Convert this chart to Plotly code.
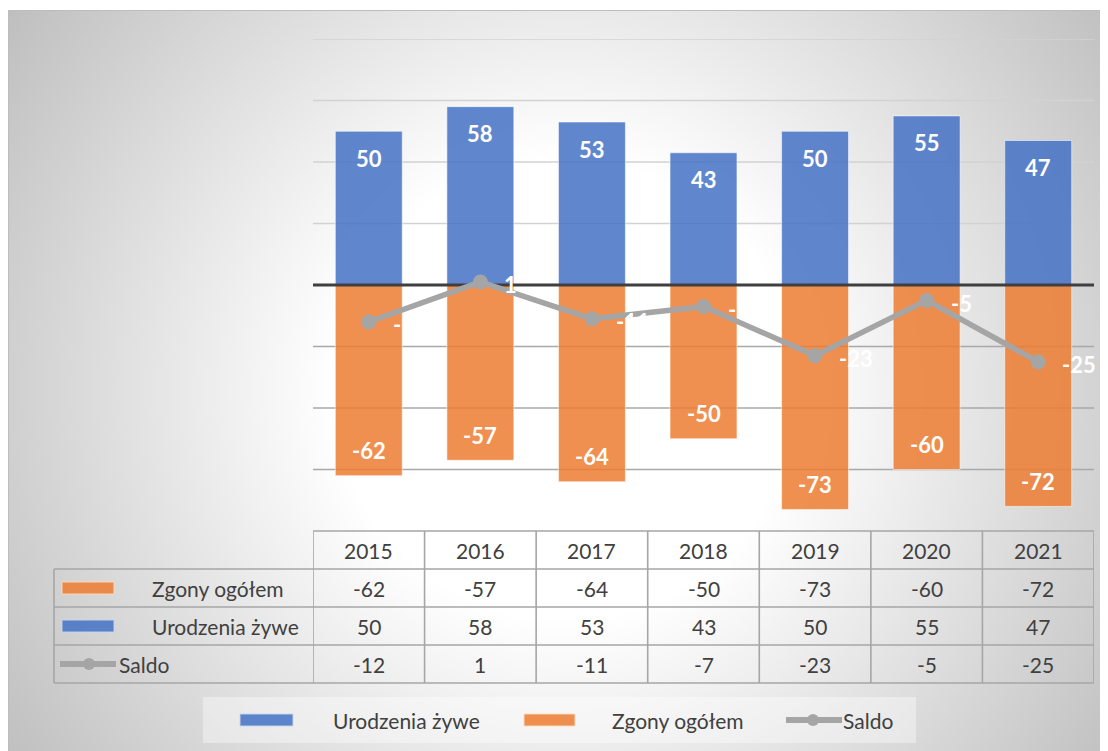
import base64
import struct
import zlib

import numpy as np
import plotly.graph_objects as go

# ---------------- data ----------------
years = [2015, 2016, 2017, 2018, 2019, 2020, 2021]
urodzenia = [50, 58, 53, 43, 50, 55, 47]
zgony = [-62, -57, -64, -50, -73, -60, -72]
saldo = [-12, 1, -11, -7, -23, -5, -25]
grid_vals = [80, 60, 40, 20, -20, -40, -60]
y_range = [-80, 80]

name_u = "Urodzenia żywe"
name_z = "Zgony ogółem"
name_s = "Saldo"

# ---------------- styling ----------------
OX, OY = 8, 8          # page offset (body margin)
W, H = 1100, 743
BLUE = "rgba(68,114,196,0.85)"
ORANGE = "rgba(237,125,49,0.85)"
GRAY = "#a5a5a5"
TXT = "#404040"
FONT = "Lato"
FS = 21


def px(x):
    return (x - OX) / W


def py(y):
    return 1 - (y - OY) / H


# ---------------- radial gradient background (PNG) ----------------
def png_gray(arr):
    h, w = arr.shape
    raw = b"".join(b"\x00" + arr[i].tobytes() for i in range(h))

    def chunk(t, d):
        c = struct.pack(">I", len(d)) + t + d
        return c + struct.pack(">I", zlib.crc32(t + d) & 0xFFFFFFFF)

    return (b"\x89PNG\r\n\x1a\n"
            + chunk(b"IHDR", struct.pack(">IIBBBBB", w, h, 8, 0, 0, 0, 0))
            + chunk(b"IDAT", zlib.compress(raw, 9))
            + chunk(b"IEND", b""))


bx0, by0, bx1, by1 = 8, 10, 1108, 751
gx = np.arange(bx0, bx1, 2) + 1.0
gy = np.arange(by0, by1, 2) + 1.0
XX, YY = np.meshgrid(gx, gy)
dist = np.sqrt((XX - 565) ** 2 + (YY - 390) ** 2)
drop = 64 * np.clip((dist - 235) / 440, 0, 1)
img = np.clip(255 - drop, 0, 255).astype(np.uint8)
bg_src = "data:image/png;base64," + base64.b64encode(png_gray(img)).decode()

fig = go.Figure()

fig.add_trace(go.Bar(x=years, y=urodzenia, name=name_u, width=0.6,
                     marker=dict(color=BLUE, line=dict(color="rgba(255,255,255,0.55)", width=1)),
                     hoverinfo="skip"))
fig.add_trace(go.Bar(x=years, y=zgony, name=name_z, width=0.6,
                     marker=dict(color=ORANGE, line=dict(color="rgba(255,255,255,0.55)", width=1)),
                     hoverinfo="skip"))
xr = [years[0] - 0.5, years[-1] + 0.5]
fig.add_trace(go.Scatter(x=xr, y=[0, 0], mode="lines", line=dict(color="#3f3f3f", width=3),
                         hoverinfo="skip", showlegend=False))
fig.add_trace(go.Scatter(x=years, y=saldo, name=name_s, mode="lines+markers",
                         line=dict(color=GRAY, width=5.5),
                         marker=dict(color=GRAY, size=15, symbol="circle"),
                         hoverinfo="skip"))

shapes = []
annotations = []

# border of chart area
shapes.append(dict(type="line", xref="paper", yref="paper", x0=px(8), x1=px(1108), y0=py(10.5), y1=py(10.5),
                   line=dict(color="#bdbdbd", width=1)))
shapes.append(dict(type="line", xref="paper", yref="paper", x0=px(8.5), x1=px(8.5), y0=py(10), y1=py(751),
                   line=dict(color="#bdbdbd", width=1)))

# gridlines
for v in grid_vals:
    col = "#d2d2d2" if v > 0 else "#a9a9a9"
    shapes.append(dict(type="line", xref="x", yref="y", x0=xr[0], x1=xr[1], y0=v, y1=v,
                       line=dict(color=col, width=1.3), layer="below"))

# bar labels
for yr, v in zip(years, urodzenia):
    annotations.append(dict(x=yr, y=v, xref="x", yref="y", text=f"<b>{v}</b>", showarrow=False,
                            yshift=-27, yanchor="middle", font=dict(family=FONT, size=FS + 1, color="white")))
for yr, v in zip(years, zgony):
    annotations.append(dict(x=yr, y=v, xref="x", yref="y", text=f"<b>{v}</b>", showarrow=False,
                            yshift=25, yanchor="middle", font=dict(family=FONT, size=FS + 1, color="white")))
for yr, v in zip(years, saldo):
    annotations.append(dict(x=yr, y=v, xref="x", yref="y", text=f"<b>{v}</b>", showarrow=False,
                            xanchor="left", xshift=22, yshift=-3, yanchor="middle",
                            font=dict(family=FONT, size=FS + 1, color="white")))

# ---------------- data table ----------------
TL = "#a6a6a6"
row_lines = [531, 569, 607, 645, 683]
row_centers = [550, 588, 626, 664]
for i, yl in enumerate(row_lines):
    if i == 0:
        shapes.append(dict(type="line", xref="x", yref="paper", x0=xr[0], x1=xr[1], y0=py(yl), y1=py(yl),
                           line=dict(color=TL, width=1.6)))
    else:
        shapes.append(dict(type="line", xref="paper", yref="paper", x0=px(54), x1=px(1094), y0=py(yl), y1=py(yl),
                           line=dict(color=TL, width=1.6)))
for k in range(len(years) + 1):
    xv = years[0] - 0.5 + k
    shapes.append(dict(type="line", xref="x", yref="paper", x0=xv, x1=xv, y0=py(531), y1=py(683),
                       line=dict(color=TL, width=1.6)))
shapes.append(dict(type="line", xref="paper", yref="paper", x0=px(54), x1=px(54), y0=py(569), y1=py(683),
                   line=dict(color=TL, width=1.6)))

rows = [(None, [str(y) for y in years]),
        (name_z, zgony),
        (name_u, urodzenia),
        (name_s, saldo)]
for (label, vals), yc in zip(rows, row_centers):
    for yr, v in zip(years, vals):
        annotations.append(dict(x=yr, y=py(yc), xref="x", yref="paper", text=str(v), showarrow=False,
                                yanchor="middle", font=dict(family=FONT, size=FS, color=TXT)))

# row label keys
shapes.append(dict(type="rect", xref="paper", yref="paper", x0=px(62), x1=px(114), y0=py(582), y1=py(594),
                   fillcolor=ORANGE, line=dict(color="rgba(255,220,190,0.9)", width=1)))
shapes.append(dict(type="rect", xref="paper", yref="paper", x0=px(62), x1=px(114), y0=py(620), y1=py(632),
                   fillcolor=BLUE, line=dict(color="rgba(200,215,240,0.9)", width=1)))
shapes.append(dict(type="line", xref="paper", yref="paper", x0=px(60), x1=px(116), y0=py(664), y1=py(664),
                   line=dict(color=GRAY, width=6)))
shapes.append(dict(type="circle", xref="paper", yref="paper", x0=px(83), x1=px(95), y0=py(670), y1=py(658),
                   fillcolor=GRAY, line=dict(color=GRAY, width=0)))
annotations.append(dict(x=px(150), y=py(588), xref="paper", yref="paper", text=name_z, showarrow=False,
                        xanchor="left", yanchor="middle", font=dict(family=FONT, size=FS, color=TXT)))
annotations.append(dict(x=px(150), y=py(626), xref="paper", yref="paper", text=name_u, showarrow=False,
                        xanchor="left", yanchor="middle", font=dict(family=FONT, size=FS, color=TXT)))
annotations.append(dict(x=px(117), y=py(664), xref="paper", yref="paper", text=name_s, showarrow=False,
                        xanchor="left", yanchor="middle", font=dict(family=FONT, size=FS, color=TXT)))

# ---------------- legend (bottom) ----------------
shapes.append(dict(type="rect", xref="paper", yref="paper", x0=px(203), x1=px(916), y0=py(697), y1=py(743),
                   fillcolor="rgba(255,255,255,0.38)", line=dict(width=0), layer="below"))
LY = 720
shapes.append(dict(type="rect", xref="paper", yref="paper", x0=px(240), x1=px(293), y0=py(LY - 6), y1=py(LY + 6),
                   fillcolor=BLUE, line=dict(color="rgba(200,215,240,0.9)", width=1)))
shapes.append(dict(type="rect", xref="paper", yref="paper", x0=px(524), x1=px(575), y0=py(LY - 6), y1=py(LY + 6),
                   fillcolor=ORANGE, line=dict(color="rgba(255,220,190,0.9)", width=1)))
shapes.append(dict(type="line", xref="paper", yref="paper", x0=px(786), x1=px(842), y0=py(LY), y1=py(LY),
                   line=dict(color=GRAY, width=6)))
shapes.append(dict(type="circle", xref="paper", yref="paper", x0=px(807), x1=px(819), y0=py(LY + 6), y1=py(LY - 6),
                   fillcolor=GRAY, line=dict(color=GRAY, width=0)))
for lx, txt in [(331, name_u), (610, name_z), (841, name_s)]:
    annotations.append(dict(x=px(lx), y=py(LY), xref="paper", yref="paper", text=txt, showarrow=False,
                            xanchor="left", yanchor="middle", font=dict(family=FONT, size=FS, color=TXT)))

fig.update_layout(
    width=W, height=H,
    margin=dict(l=0, r=0, t=0, b=0, autoexpand=False),
    paper_bgcolor="white",
    plot_bgcolor="rgba(0,0,0,0)",
    showlegend=False,
    barmode="relative",
    xaxis=dict(type="linear", range=xr, domain=[px(313), px(1094)], showgrid=False, zeroline=False,
               showticklabels=False, showline=False, ticks="", fixedrange=True),
    yaxis=dict(range=y_range, domain=[py(531), py(39)], showgrid=False, zeroline=False,
               showticklabels=False, showline=False, ticks="", fixedrange=True),
    shapes=shapes,
    annotations=annotations,
    images=[dict(source=bg_src, xref="paper", yref="paper", x=px(bx0), y=py(by0),
                 sizex=px(bx1) - px(bx0), sizey=py(by0) - py(by1), sizing="stretch",
                 xanchor="left", yanchor="top", layer="below")],
    font=dict(family=FONT),
)

fig.write_html("out.html")
